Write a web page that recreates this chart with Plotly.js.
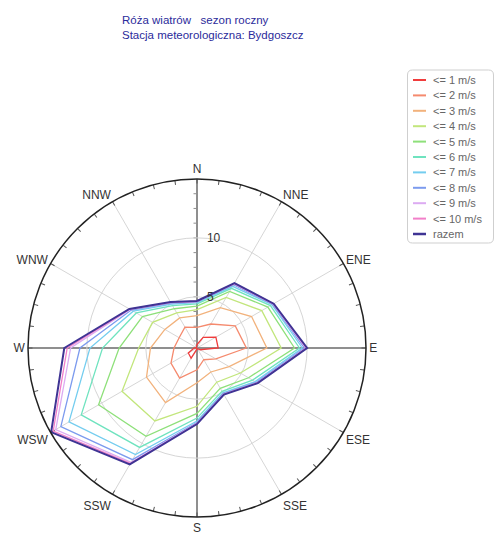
<!DOCTYPE html>
<html>
<head>
<meta charset="utf-8">
<script src="https://cdn.plot.ly/plotly-3.0.1.min.js"></script>
<style>html,body{margin:0;padding:0;background:#fff}#chart{width:496px;height:536px}</style>
</head>
<body>
<div id="chart"></div>
<script>
// ---- data ----
const directions = ['N','NNE','ENE','E','ESE','SSE','S','SSW','WSW','W','WNW','NNW'];
const seriesNames = ['<= 1 m/s','<= 2 m/s','<= 3 m/s','<= 4 m/s','<= 5 m/s','<= 6 m/s','<= 7 m/s','<= 8 m/s','<= 9 m/s','<= 10 m/s','razem'];
const le1  = [0.95, 1.70, 2.50, 2.45, 0.95, 0.70, 0.75, 1.65, 1.50, 0.90, 0.70, 0.75];
const le2  = [2.40, 3.00, 4.40, 4.84, 2.50, 1.80, 2.50, 3.60, 3.20, 2.60, 2.40, 2.70];
const le3  = [3.40, 4.60, 6.00, 6.58, 3.80, 3.00, 3.60, 6.00, 5.60, 4.60, 3.80, 3.60];
const le4  = [3.90, 5.60, 7.00, 7.80, 4.90, 4.00, 5.60, 7.80, 8.00, 5.60, 5.00, 4.10];
const le5  = [4.20, 6.20, 7.60, 8.93, 5.70, 4.60, 6.20, 9.30, 10.30, 7.26, 6.00, 4.50];
const le6  = [4.40, 6.50, 7.85, 9.35, 6.10, 4.90, 6.60, 10.40, 12.00, 8.67, 6.60, 4.80];
const le7  = [4.50, 6.70, 8.00, 9.59, 6.35, 5.05, 6.85, 11.10, 13.20, 9.74, 6.90, 4.95];
const le8  = [4.56, 6.85, 8.08, 9.78, 6.48, 5.12, 6.98, 11.60, 14.00, 10.59, 7.10, 5.05];
const le9  = [4.60, 6.93, 8.12, 9.89, 6.55, 5.17, 7.05, 11.85, 14.50, 11.38, 7.20, 5.10];
const le10 = [4.62, 6.97, 8.15, 9.95, 6.58, 5.20, 7.08, 11.97, 14.75, 11.67, 7.25, 5.13];
const razem = [4.64, 7.01, 8.17, 10.00, 6.61, 5.22, 7.11, 12.07, 14.95, 11.92, 7.28, 5.15];
const radialTicks = [5, 10];
const radialRange = [0.65, 15];

// ---- styles ----
const colors = ['#f03c3c','#f58a6e','#f2b27c','#c2e67c','#8ee07a','#6fe3bf','#74cdef','#7c9bee','#dcabf2','#f27fc9','#3f3494'];
const widths = [1.3,1.3,1.3,1.3,1.3,1.3,1.3,1.3,1.3,1.3,2];
const allSeries = [le1,le2,le3,le4,le5,le6,le7,le8,le9,le10,razem];

const W = 496, H = 536;
const px = x => x / W, py = y => 1 - y / H;

const closeArr = a => a.concat([a[0]]);
const traces = [];
['polar','polar2','polar3'].forEach(sp => traces.push({type:'scatterpolar', subplot:sp, r:[], theta:[], showlegend:false, hoverinfo:'skip'}));
allSeries.forEach((s, i) => {
  traces.push({
    type:'scatterpolar', subplot:'polar4', mode:'lines',
    name: seriesNames[i],
    r: closeArr(s), theta: closeArr(directions),
    line:{color:colors[i], width:widths[i]}
  });
});

const spokes = []; for (let a = 0; a < 360; a += 30) spokes.push(a);
const fine = []; for (let a = 0; a < 360; a += 7.5) fine.push(a);
const minorR = []; for (let v = 1.25; v < 15; v += 1.25) minorR.push(v);

// ---- legend box (drawn as shapes + annotations from seriesNames / colors) ----
const lg = {x0:407.5, x1:493.5, y0:70, y1:243, r:5, row0:80, step:15.4, sw0:413, sw1:426, tx:431};
const shapes = [];
const annotations = [];
{
  const {x0,x1,y0,y1,r} = lg;
  const path = `M ${px(x0+r)} ${py(y0)} L ${px(x1-r)} ${py(y0)} Q ${px(x1)} ${py(y0)} ${px(x1)} ${py(y0+r)} ` +
               `L ${px(x1)} ${py(y1-r)} Q ${px(x1)} ${py(y1)} ${px(x1-r)} ${py(y1)} ` +
               `L ${px(x0+r)} ${py(y1)} Q ${px(x0)} ${py(y1)} ${px(x0)} ${py(y1-r)} ` +
               `L ${px(x0)} ${py(y0+r)} Q ${px(x0)} ${py(y0)} ${px(x0+r)} ${py(y0)} Z`;
  shapes.push({type:'path', xref:'paper', yref:'paper', path:path, line:{color:'#cfcfcf', width:1}, fillcolor:'#fff', layer:'below'});
}
seriesNames.forEach((n, i) => {
  const y = lg.row0 + lg.step * i;
  shapes.push({type:'line', xref:'paper', yref:'paper', x0:px(lg.sw0), x1:px(lg.sw1), y0:py(y), y1:py(y),
               line:{color:colors[i], width: i === 10 ? 2.5 : 2}});
  annotations.push({xref:'paper', yref:'paper', x:px(lg.tx), y:py(y), xanchor:'left', yanchor:'middle',
                    text:n.replace('<','&lt;'), showarrow:false, font:{size:11, color:'#666'}});
});

const dom = {x:[px(28), px(366)], y:[py(517), py(179)]};
const txt = '#333';
const helperRadial = {visible:false};
const layout = {
  width:W, height:H,
  margin:{l:0,r:0,t:0,b:0},
  paper_bgcolor:'#fff',
  font:{family:'Liberation Sans, Arial, sans-serif', size:12, color:txt},
  title:{text:'Róża wiatrów\u00a0\u00a0\u00a0sezon roczny<br>Stacja meteorologiczna: Bydgoszcz',
         x:px(122), xanchor:'left', y:py(24), yanchor:'middle',
         font:{family:'Liberation Sans, Arial, sans-serif', size:11.5, color:'#2b2b9b'}},
  showlegend:false,
  shapes:shapes,
  annotations:annotations,
  polar:{domain:dom, bgcolor:'#fff',
    angularaxis:{type:'linear', thetaunit:'degrees', rotation:90, direction:'clockwise',
      tickvals:spokes, showticklabels:false, ticks:'', showgrid:true, gridcolor:'#d6d6d6', gridwidth:1, showline:false},
    radialaxis:helperRadial},
  polar2:{domain:dom, bgcolor:'rgba(0,0,0,0)',
    angularaxis:{type:'linear', thetaunit:'degrees', rotation:90, direction:'clockwise',
      tickvals:[0,90,180,270], showticklabels:false, ticks:'', showgrid:true, gridcolor:'#8f8f8f', gridwidth:2, showline:false},
    radialaxis:{visible:true, range:radialRange, angle:90, side:'counterclockwise', tickvals:minorR, ticks:'outside', ticklen:3, tickcolor:'#8f8f8f',
      showgrid:false, showline:false, showticklabels:false}},
  polar3:{domain:dom, bgcolor:'rgba(0,0,0,0)',
    angularaxis:{type:'linear', thetaunit:'degrees', rotation:90, direction:'clockwise',
      tickvals:fine, showticklabels:false, ticks:'inside', ticklen:4, tickcolor:'#555', showgrid:false, showline:false},
    radialaxis:helperRadial},
  polar4:{domain:dom, bgcolor:'rgba(0,0,0,0)',
    angularaxis:{type:'category', categoryarray:directions, rotation:90, direction:'clockwise',
      showline:true, linecolor:'#222', linewidth:1.5, showgrid:false, ticks:'',
      tickfont:{size:12, color:txt}},
    radialaxis:{range:radialRange, angle:90, tickvals:radialTicks, showgrid:true, gridcolor:'#d6d6d6', gridwidth:1,
      showline:false, ticks:'outside', ticklen:7, tickcolor:'rgba(0,0,0,0)', tickangle:90, tickfont:{size:12, color:txt}}}
};
Plotly.newPlot('chart', traces, layout, {displayModeBar:false, staticPlot:true});
</script>
</body>
</html>
